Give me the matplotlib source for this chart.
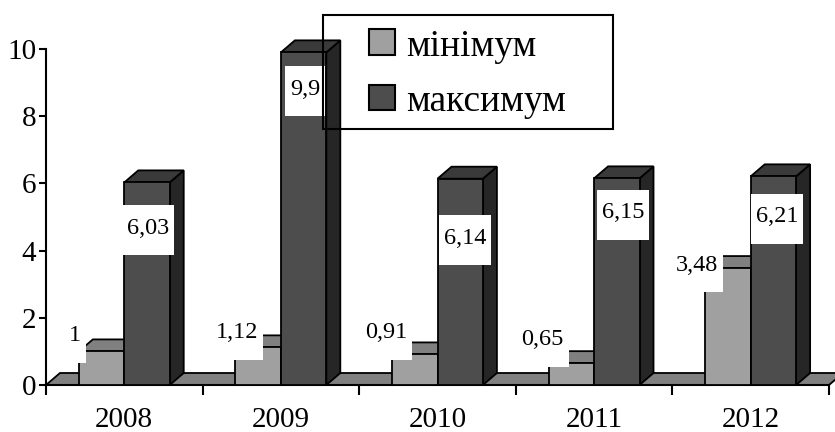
import matplotlib
matplotlib.use("Agg")
import matplotlib.pyplot as plt
from matplotlib.patches import Rectangle, Polygon, Patch

plt.rcParams['font.family'] = ['Liberation Serif', 'DejaVu Serif']

# ---- data ----
years = ['2008', '2009', '2010', '2011', '2012']
minimum = [1.0, 1.12, 0.91, 0.65, 3.48]
maximum = [6.03, 9.9, 6.14, 6.15, 6.21]
series_names = ['мінімум', 'максимум']
y_ticks = [0, 2, 4, 6, 8, 10]

# label placement (category offset, y in data units)
min_label_pos = [(0.185, 1.46), (0.22, 1.55), (0.17, 1.55), (0.17, 1.34), (0.157, 3.57)]
max_label_pos = [(0.651, 4.67), (0.654, 8.8), (0.676, 4.375), (0.685, 5.12), (0.668, 5.0)]

W, H = 835, 432
fig = plt.figure(figsize=(W / 100, H / 100), dpi=100)
ax_l, ax_r, ax_b, ax_t = 46, 829, 385, 49
ax = fig.add_axes([ax_l / W, (H - ax_b) / H, (ax_r - ax_l) / W, (ax_b - ax_t) / H])
n = len(years)
ax.set_xlim(0, n)
ax.set_ylim(0, 10)
PX = (ax_r - ax_l) / n
PY = (ax_b - ax_t) / 10.0
DX = 14 / PX
DY = 12 / PY

for s in ['top', 'right']:
    ax.spines[s].set_visible(False)
for s in ['left', 'bottom']:
    ax.spines[s].set_linewidth(1.5)
    ax.spines[s].set_color('black')

ax.set_yticks(y_ticks)
ax.set_yticklabels([str(t) for t in y_ticks], fontsize=21)
ax.tick_params(axis='y', direction='out', length=5, width=1.5, pad=2)
ax.set_xticks(range(n + 1))
ax.set_xticklabels([''] * (n + 1))
ax.tick_params(axis='x', which='major', direction='out', length=7, width=1.5)
ax.set_xticks([i + 0.5 for i in range(n)], minor=True)
ax.set_xticklabels(years, minor=True, fontsize=21)
ax.tick_params(axis='x', which='minor', length=0, pad=16)

EC = 'black'
LW = 1.3

# floor
floor = Polygon([(0, 0), (n, 0), (n + DX, DY), (DX, DY)], closed=True,
                facecolor='#808080', edgecolor=EC, lw=LW, clip_on=False, zorder=2)
ax.add_patch(floor)


def bar3d(x0, x1, h, front, top, side, z):
    ax.add_patch(Polygon([(x1, 0), (x1 + DX, DY), (x1 + DX, h + DY), (x1, h)], closed=True,
                         facecolor=side, edgecolor=EC, lw=LW, clip_on=False, zorder=z))
    ax.add_patch(Polygon([(x0, h), (x1, h), (x1 + DX, h + DY), (x0 + DX, h + DY)], closed=True,
                         facecolor=top, edgecolor=EC, lw=LW, clip_on=False, zorder=z))
    ax.add_patch(Rectangle((x0, 0), x1 - x0, h, facecolor=front, edgecolor=EC, lw=LW,
                           clip_on=False, zorder=z))


for i in range(n):
    bar3d(i + 0.21, i + 0.5, minimum[i], '#a0a0a0', '#808080', '#707070', 3 + i * 2)
    bar3d(i + 0.5, i + 0.79, maximum[i], '#4d4d4d', '#3a3a3a', '#262626', 4 + i * 2)


def fmt(v):
    return f"{v:g}".replace('.', ',')


texts = []
for i in range(n):
    dx, y = min_label_pos[i]
    texts.append(ax.text(i + dx, y, fmt(minimum[i]), ha='center', va='center',
                         fontsize=17.5, zorder=21))
    dx, y = max_label_pos[i]
    texts.append(ax.text(i + dx, y, fmt(maximum[i]), ha='center', va='center',
                         fontsize=17.5, zorder=21))

fig.canvas.draw()
r = fig.canvas.get_renderer()
inv = ax.transData.inverted()
for t in texts:
    bb = t.get_window_extent(r)
    cx = (bb.x0 + bb.x1) / 2
    cy = (bb.y0 + bb.y1) / 2 - 2
    bw = bb.width + 10
    bh = 50
    (dx0, dy0) = inv.transform((cx - bw / 2, cy - bh / 2))
    (dx1, dy1) = inv.transform((cx + bw / 2, cy + bh / 2))
    ax.add_patch(Rectangle((dx0, dy0), dx1 - dx0, dy1 - dy0, facecolor='white',
                           edgecolor='none', clip_on=False, zorder=20))

# legend
handles = [Patch(facecolor='#a0a0a0', edgecolor='black', lw=1.5),
           Patch(facecolor='#4d4d4d', edgecolor='black', lw=1.5)]
leg = fig.legend(handles, series_names, loc='upper left',
                 bbox_to_anchor=(369 / W, 1 - 29 / H), frameon=False, fontsize=27,
                 handlelength=0.68, handleheight=0.68, handletextpad=0.3,
                 labelspacing=0.55, borderpad=0, borderaxespad=0)
leg.set_zorder(30)
fig.patches.append(Rectangle((323 / W, 1 - 129 / H), (613 - 323) / W, (129 - 15) / H,
                             transform=fig.transFigure, facecolor='none',
                             edgecolor='black', lw=1.5, zorder=30))

fig.savefig('out.png', dpi=100)
